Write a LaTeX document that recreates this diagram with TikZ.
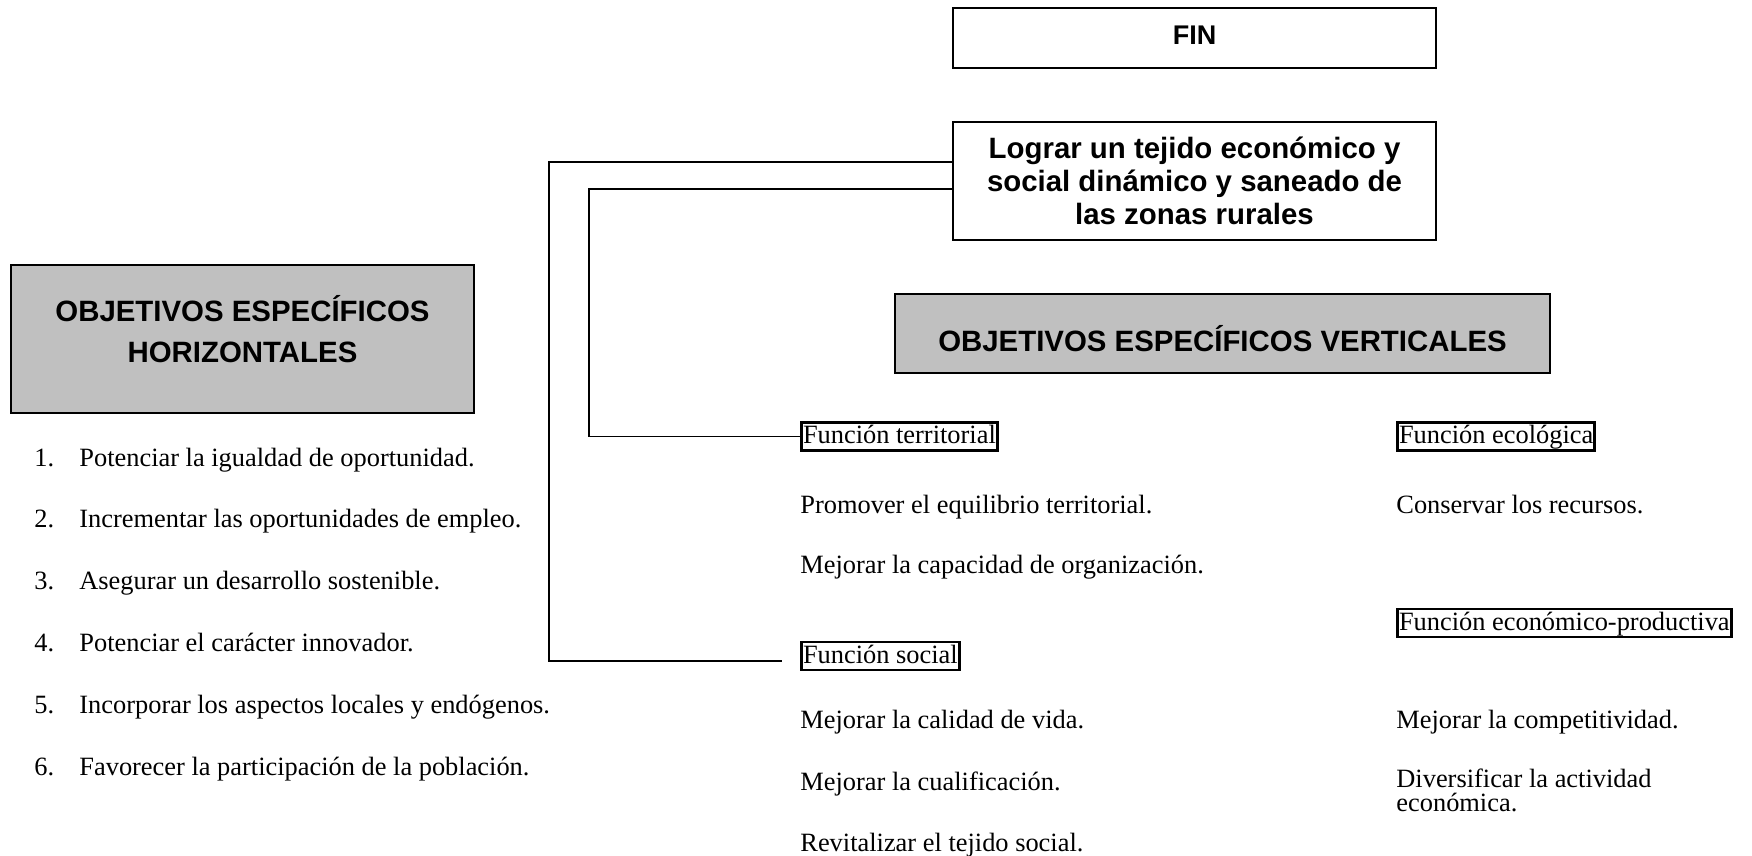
\documentclass[tikz,border=0pt]{standalone}
\usepackage{fontspec}
\setmainfont{Liberation Serif}
\newfontfamily\arialfont{Liberation Sans}
\definecolor{cajagris}{RGB}{192,192,192}

\begin{document}
\begin{tikzpicture}[x=0.5pt,y=-0.5pt,
    titulo/.style={draw=black,line width=0.9pt,align=center,font=\arialfont\bfseries\fontsize{14.7}{16.5}\selectfont},
    gris/.style={titulo,fill=cajagris},
    funcion/.style={draw=black,line width=1.4pt,anchor=west,inner xsep=0.8pt,inner ysep=0.5pt,text height=10pt,text depth=3pt,font=\fontsize{13.2}{13.5}\selectfont},
    texto/.style={anchor=base west,inner sep=0pt,align=left,font=\fontsize{13.2}{13.5}\selectfont},
    linea/.style={draw=black,line width=0.9pt}]
  \useasboundingbox (0,0) rectangle (1752,856);

  % cajas de arriba
  \node[titulo,minimum width=241.5pt,minimum height=30pt,text depth=2.5pt,font=\arialfont\bfseries\fontsize{13.5}{15}\selectfont] (fin) at (1194.5,38) {FIN};
  \node[titulo,minimum width=241.5pt,minimum height=59pt] (lograr) at (1194.5,181) {Lograr un tejido económico y\\social dinámico y saneado de\\las zonas rurales};

  % cajas grises
  \node[gris,minimum width=231.5pt,minimum height=74pt,text depth=10pt,font=\arialfont\bfseries\fontsize{14.7}{20.5}\selectfont] (horiz) at (242.5,339) {OBJETIVOS ESPECÍFICOS\\HORIZONTALES};
  \node[gris,minimum width=327.5pt,minimum height=39.5pt,text height=18pt,text depth=0pt] (vert) at (1222.5,333.5) {OBJETIVOS ESPECÍFICOS VERTICALES};

  % objetivos horizontales
  \foreach \n/\t in {1/Potenciar la igualdad de oportunidad.,
                     2/Incrementar las oportunidades de empleo.,
                     3/Asegurar un desarrollo sostenible.,
                     4/Potenciar el carácter innovador.,
                     5/Incorporar los aspectos locales y endógenos.,
                     6/Favorecer la participación de la población.}{
    \node[texto] (num\n) at (34,{466+61.8*(\n-1)}) {\n.};
    \node[texto] (obj\n) at (79,{466+61.8*(\n-1)}) {\t};
  }

  % funciones
  \node[funcion] (terr) at (800,436.5) {Función territorial};
  \node[funcion] (soc) at (800,656) {Función social};
  \node[funcion] (eco) at (1396,436.5) {Función ecológica};
  \node[funcion] (prod) at (1396,623) {Función económico-productiva};

  \node[texto] (promover) at (800,513) {Promover el equilibrio territorial.};
  \node[texto] (organiz) at (800,573) {Mejorar la capacidad de organización.};
  \node[texto] (calidad) at (800,728) {Mejorar la calidad de vida.};
  \node[texto] (cualif) at (800,790) {Mejorar la cualificación.};
  \node[texto] (tejido) at (800,851) {Revitalizar el tejido social.};
  \node[texto] (recursos) at (1396,513) {Conservar los recursos.};
  \node[texto] (compet) at (1396,728) {Mejorar la competitividad.};
  \node[texto,font=\fontsize{13.2}{12}\selectfont] (divers) at (1396,811) {Diversificar la actividad\\económica.};

  % conexiones
  \coordinate (esq1) at (549,162);
  \coordinate (esq2) at (589,189);
  \coordinate (finsoc) at (782,661);
  \draw[linea] (lograr.west |- esq1) -- (esq1) |- (finsoc);
  \draw[linea] (lograr.west |- esq2) -- (esq2) |- (terr.west);
\end{tikzpicture}
\end{document}
